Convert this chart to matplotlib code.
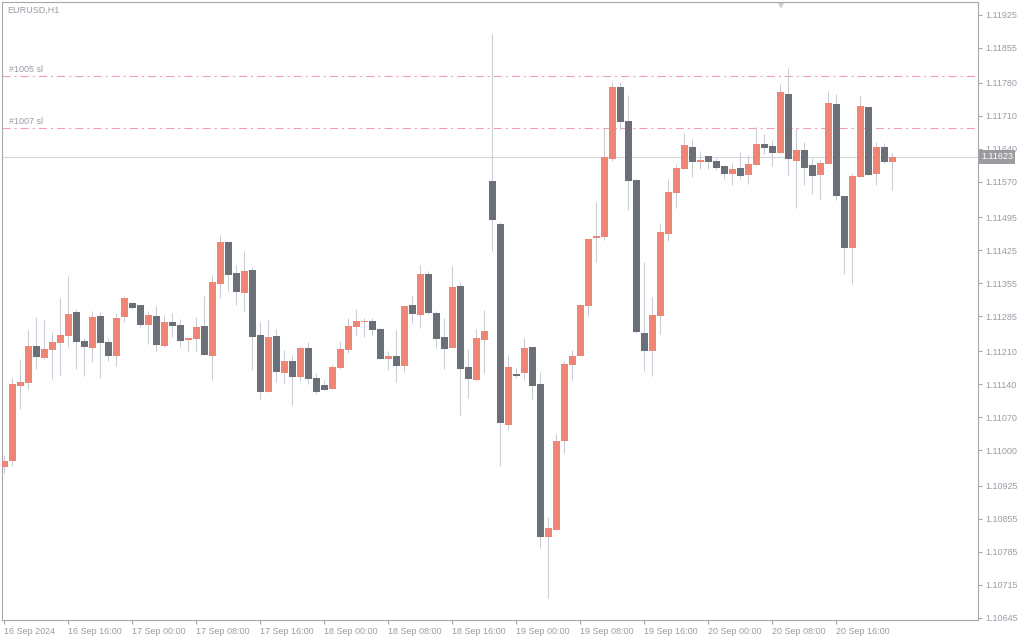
import matplotlib.pyplot as plt

plt.rcParams['font.family'] = ['Liberation Sans', 'DejaVu Sans']
plt.rcParams['lines.scale_dashes'] = False

symbol = "EURUSD,H1"

# hourly bars, 16 Sep 08:00 .. 20 Sep 23:00
opens = [1.10965, 1.10977, 1.11136, 1.11143, 1.11221, 1.11196, 1.11213, 1.11228, 1.11243, 1.11294,
         1.11232, 1.11217, 1.11285, 1.11230, 1.11200, 1.11283, 1.11313, 1.11308, 1.11266, 1.11285,
         1.11221, 1.11272, 1.11266, 1.11234, 1.11236, 1.11264, 1.11200, 1.11353, 1.11442, 1.11376,
         1.11334, 1.11383, 1.11245, 1.11124, 1.11243, 1.11164, 1.11190, 1.11156, 1.11217, 1.11153,
         1.11139, 1.11130, 1.11175, 1.11213, 1.11262, 1.11272, 1.11274, 1.11257, 1.11194, 1.11200,
         1.11179, 1.11308, 1.11287, 1.11374, 1.11291, 1.11240, 1.11217, 1.11349, 1.11177, 1.11149,
         1.11234, 1.11572, 1.11480, 1.11054, 1.11162, 1.11164, 1.11219, 1.11141, 1.10816, 1.10831,
         1.11020, 1.11181, 1.11200, 1.11306, 1.11451, 1.11453, 1.11618, 1.11771, 1.11699, 1.11574,
         1.11249, 1.11211, 1.11285, 1.11459, 1.11546, 1.11597, 1.11644, 1.11612, 1.11625, 1.11614,
         1.11603, 1.11586, 1.11599, 1.11584, 1.11606, 1.11650, 1.11646, 1.11631, 1.11756, 1.11614,
         1.11637, 1.11606, 1.11584, 1.11608, 1.11735, 1.11540, 1.11429, 1.11580, 1.11729, 1.11586,
         1.11644, 1.11612]
highs = [1.10990, 1.11153, 1.11194, 1.11255, 1.11283, 1.11277, 1.11251, 1.11323, 1.11370, 1.11300,
         1.11238, 1.11296, 1.11294, 1.11238, 1.11291, 1.11327, 1.11315, 1.11308, 1.11296, 1.11306,
         1.11287, 1.11291, 1.11279, 1.11240, 1.11283, 1.11327, 1.11372, 1.11457, 1.11442, 1.11393,
         1.11423, 1.11389, 1.11272, 1.11277, 1.11257, 1.11213, 1.11202, 1.11221, 1.11230, 1.11164,
         1.11149, 1.11181, 1.11232, 1.11281, 1.11300, 1.11281, 1.11281, 1.11260, 1.11211, 1.11255,
         1.11306, 1.11327, 1.11393, 1.11381, 1.11296, 1.11281, 1.11391, 1.11357, 1.11215, 1.11257,
         1.11298, 1.11884, 1.11485, 1.11202, 1.11175, 1.11238, 1.11219, 1.11166, 1.10858, 1.11035,
         1.11190, 1.11213, 1.11310, 1.11448, 1.11527, 1.11684, 1.11782, 1.11782, 1.11754, 1.11576,
         1.11400, 1.11325, 1.11482, 1.11576, 1.11608, 1.11673, 1.11661, 1.11635, 1.11625, 1.11620,
         1.11603, 1.11610, 1.11633, 1.11627, 1.11686, 1.11671, 1.11659, 1.11777, 1.11811, 1.11684,
         1.11654, 1.11620, 1.11616, 1.11763, 1.11756, 1.11540, 1.11589, 1.11752, 1.11729, 1.11654,
         1.11652, 1.11631]
lows = [1.10952, 1.10967, 1.11088, 1.11130, 1.11173, 1.11194, 1.11151, 1.11160, 1.11219, 1.11173,
        1.11158, 1.11187, 1.11153, 1.11190, 1.11179, 1.11272, 1.11300, 1.11262, 1.11226, 1.11211,
        1.11219, 1.11240, 1.11219, 1.11211, 1.11211, 1.11202, 1.11149, 1.11323, 1.11338, 1.11308,
        1.11296, 1.11170, 1.11109, 1.11124, 1.11145, 1.11143, 1.11096, 1.11147, 1.11141, 1.11119,
        1.11128, 1.11130, 1.11173, 1.11206, 1.11245, 1.11240, 1.11245, 1.11194, 1.11170, 1.11145,
        1.11166, 1.11270, 1.11260, 1.11289, 1.11217, 1.11173, 1.11217, 1.11075, 1.11111, 1.11147,
        1.11164, 1.11423, 1.10967, 1.11043, 1.11153, 1.11149, 1.11109, 1.10793, 1.10686, 1.10831,
        1.10994, 1.11149, 1.11200, 1.11285, 1.11400, 1.11446, 1.11614, 1.11680, 1.11510, 1.11249,
        1.11168, 1.11158, 1.11247, 1.11444, 1.11514, 1.11597, 1.11580, 1.11597, 1.11597, 1.11595,
        1.11576, 1.11563, 1.11576, 1.11565, 1.11606, 1.11629, 1.11603, 1.11631, 1.11584, 1.11514,
        1.11563, 1.11544, 1.11533, 1.11608, 1.11531, 1.11374, 1.11353, 1.11580, 1.11584, 1.11563,
        1.11610, 1.11552]
closes = [1.10977, 1.11141, 1.11145, 1.11221, 1.11198, 1.11215, 1.11230, 1.11245, 1.11289, 1.11230,
          1.11219, 1.11283, 1.11228, 1.11200, 1.11281, 1.11323, 1.11302, 1.11266, 1.11287, 1.11223,
          1.11272, 1.11264, 1.11232, 1.11238, 1.11262, 1.11202, 1.11357, 1.11442, 1.11372, 1.11336,
          1.11381, 1.11240, 1.11124, 1.11240, 1.11166, 1.11190, 1.11156, 1.11217, 1.11151, 1.11124,
          1.11128, 1.11177, 1.11215, 1.11264, 1.11274, 1.11274, 1.11255, 1.11194, 1.11200, 1.11179,
          1.11306, 1.11289, 1.11374, 1.11291, 1.11236, 1.11215, 1.11347, 1.11173, 1.11151, 1.11238,
          1.11253, 1.11489, 1.11058, 1.11177, 1.11158, 1.11217, 1.11136, 1.10816, 1.10835, 1.11020,
          1.11183, 1.11200, 1.11308, 1.11448, 1.11455, 1.11623, 1.11771, 1.11697, 1.11572, 1.11251,
          1.11211, 1.11287, 1.11463, 1.11548, 1.11599, 1.11648, 1.11612, 1.11616, 1.11612, 1.11599,
          1.11586, 1.11597, 1.11582, 1.11608, 1.11650, 1.11642, 1.11631, 1.11760, 1.11618, 1.11637,
          1.11599, 1.11582, 1.11610, 1.11737, 1.11540, 1.11429, 1.11582, 1.11731, 1.11584, 1.11644,
          1.11612, 1.11623]

time_labels = ["16 Sep 2024", "16 Sep 16:00", "17 Sep 00:00", "17 Sep 08:00", "17 Sep 16:00",
               "18 Sep 00:00", "18 Sep 08:00", "18 Sep 16:00", "19 Sep 00:00", "19 Sep 08:00",
               "19 Sep 16:00", "20 Sep 00:00", "20 Sep 08:00", "20 Sep 16:00"]
time_label_bars = [0, 8, 16, 24, 32, 40, 48, 56, 64, 72, 80, 88, 96, 104]

price_ticks = [1.11925, 1.11855, 1.11780, 1.11710, 1.11640, 1.11570, 1.11495, 1.11425, 1.11355,
               1.11285, 1.11210, 1.11140, 1.11070, 1.11000, 1.10925, 1.10855, 1.10785, 1.10715,
               1.10645]
last_price = 1.11623
sl_names = ["#1005 sl", "#1007 sl"]
sl_levels = [1.11795, 1.11685]

BULL = "#ef8575"
BEAR = "#6b6f78"
WICK = "#c9cdd6"
TEXT = "#989ca6"
FRAME = "#a6a6ab"
FS = 6.5

fig = plt.figure(figsize=(10.24, 6.4), dpi=100, facecolor="white")
ax = fig.add_axes([2 / 1024, 20 / 640, 976 / 1024, 618 / 640])

# one screen pixel in price units, used for doji bodies
px = 0.0128 / 603

xs = list(range(len(opens)))
bottoms, heights, colors = [], [], []
for o, c in zip(opens, closes):
    bottoms.append(min(o, c))
    heights.append(max(abs(c - o), px))
    colors.append(BULL if c >= o else BEAR)

ax.vlines(xs, lows, highs, color=WICK, lw=0.8, zorder=2)
ax.bar(xs, heights, bottom=bottoms, width=0.86, color=colors, linewidth=0, zorder=3)

ax.axhline(last_price, color="#d5d7dd", lw=0.8, zorder=1)
for name, level in zip(sl_names, sl_levels):
    ax.axhline(level, color="#f59cb2", lw=0.8, dashes=(5.8, 2.9, 1.5, 2.9), zorder=1)
    ax.annotate(name, xy=(7 / 976, level), xycoords=ax.get_yaxis_transform(),
                xytext=(0, 1.5), textcoords="offset points", fontsize=FS,
                color=TEXT, va="bottom", ha="left")

ax.text(5 / 976, 1 - 8 / 618, symbol, transform=ax.transAxes, fontsize=FS,
        color=TEXT, va="center", ha="left")

ax.set_xlim(-0.3125, 121.69)
ax.set_ylim(1.106397, 1.119516)

ax.yaxis.tick_right()
ax.set_yticks(price_ticks)
ax.set_yticklabels([f"{p:.5f}" for p in price_ticks])
ax.tick_params(axis="y", direction="out", length=3, width=0.8, color=FRAME,
               labelcolor=TEXT, labelsize=FS, pad=2.5)

ax.set_xticks(time_label_bars)
ax.set_xticklabels(time_labels, ha="left")
ax.tick_params(axis="x", direction="out", length=3, width=0.8, color=FRAME,
               labelcolor=TEXT, labelsize=FS, pad=2)
for lbl in ax.get_xticklabels():
    lbl.set_horizontalalignment("left")

for s in ax.spines.values():
    s.set_color(FRAME)
    s.set_linewidth(0.8)

ax.text(1.0 + 3 / 976, last_price, f"{last_price:.5f}", transform=ax.get_yaxis_transform(),
        fontsize=FS, color="white", va="center", ha="left", zorder=5, clip_on=False,
        bbox=dict(boxstyle="square,pad=0.25", fc="#9c9ca0", ec="none"))

# chart shift marker at the top
ax.plot([779 / 976], [0.994], marker="v", ms=5, color="#cfcfd3", mew=0,
        transform=ax.transAxes, clip_on=False)

fig.savefig("out.png", dpi=100, facecolor="white")
